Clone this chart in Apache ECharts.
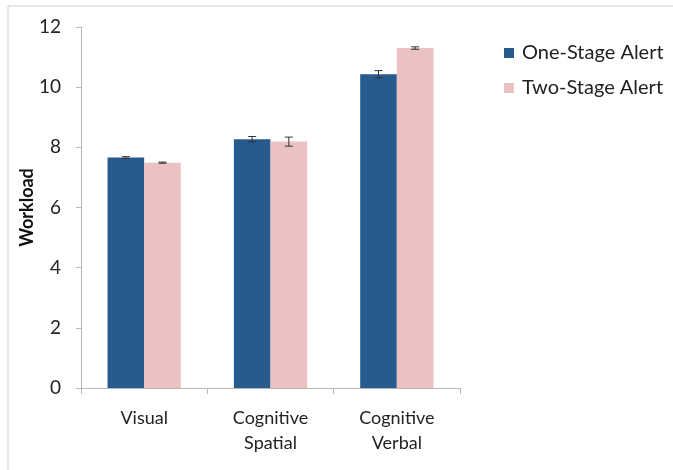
<!DOCTYPE html>
<html><head><meta charset="utf-8">
<script src="https://cdn.jsdelivr.net/npm/echarts@6/dist/echarts.min.js"></script>
<style>html,body{margin:0;padding:0;background:#fff}#c{width:673px;height:470px}</style>
</head><body><div id="c"></div>
<script>
const categories = ['Visual', 'Cognitive\nSpatial', 'Cognitive\nVerbal'];
const seriesNames = ['One-Stage Alert', 'Two-Stage Alert'];
const oneStage = [7.66, 8.27, 10.43];
const twoStage = [7.49, 8.19, 11.30];
const oneStageErr = [0.03, 0.09, 0.12];
const twoStageErr = [0.02, 0.15, 0.04];
const yTicks = [0, 2, 4, 6, 8, 10, 12];

const FONT = 'Lato';
const CAT_GAP = 0.42;

function errSeries(vals, errs, side) {
  return {
    type: 'custom',
    silent: true,
    z: 5,
    data: vals.map((v, i) => [i, v, errs[i]]),
    renderItem: function (params, api) {
      const i = api.value(0), v = api.value(1), e = api.value(2);
      const catW = api.size([1, 0])[0];
      const barW = catW * (1 - CAT_GAP) / 2;
      const c = api.coord([i, v]);
      const x = c[0] + side * barW / 2;
      const yHi = api.coord([i, v + e])[1];
      const yLo = api.coord([i, v - e])[1];
      const hw = 4;
      const st = { stroke: '#333', lineWidth: 1 };
      return { type: 'group', children: [
        { type: 'line', shape: { x1: x, y1: yHi, x2: x, y2: yLo }, style: st },
        { type: 'line', shape: { x1: x - hw, y1: yHi, x2: x + hw, y2: yHi }, style: st },
        { type: 'line', shape: { x1: x - hw, y1: yLo, x2: x + hw, y2: yLo }, style: st }
      ]};
    }
  };
}

const chart = echarts.init(document.getElementById('c'));
chart.setOption({
  animation: false,
  textStyle: { fontFamily: FONT },
  graphic: [{ type: 'rect', shape: { x: 8, y: 6, width: 700, height: 500 },
    style: { fill: 'none', stroke: '#cfcfcf', lineWidth: 1 }, silent: true }],
  grid: { left: 81, right: 213, top: 27, bottom: 82 },
  legend: {
    orient: 'vertical', left: 504, top: 43, padding: 0, itemWidth: 10, itemHeight: 10, itemGap: 15,
    icon: 'rect',
    textStyle: { fontFamily: FONT, fontSize: 20, color: '#222', padding: [0, 0, 0, 3] },
    data: seriesNames
  },
  xAxis: {
    type: 'category', data: categories,
    axisLine: { lineStyle: { color: '#b8b8b8' } },
    axisTick: { show: true, length: 6, lineStyle: { color: '#b8b8b8' } },
    axisLabel: { fontFamily: FONT, fontSize: 18, color: '#222', lineHeight: 25, margin: 18 }
  },
  yAxis: {
    type: 'value', min: yTicks[0], max: yTicks[yTicks.length - 1], interval: 2,
    name: 'Workload', nameLocation: 'middle', nameGap: 45, nameRotate: 90, nameMoveOverlap: false,
    nameTextStyle: { fontFamily: FONT, fontSize: 18, fontWeight: 'bold', color: '#111' },
    axisLine: { show: true, lineStyle: { color: '#b8b8b8' } },
    axisTick: { show: true, length: 5, lineStyle: { color: '#b8b8b8' } },
    splitLine: { show: false },
    axisLabel: { fontFamily: FONT, fontSize: 19, color: '#222', margin: 20 }
  },
  series: [
    { name: seriesNames[0], type: 'bar', data: oneStage, barGap: '0%', barCategoryGap: (CAT_GAP * 100) + '%',
      itemStyle: { color: '#275A8E' } },
    { name: seriesNames[1], type: 'bar', data: twoStage, barGap: '0%', barCategoryGap: (CAT_GAP * 100) + '%',
      itemStyle: { color: '#EBC1C1' } },
    errSeries(oneStage, oneStageErr, -1),
    errSeries(twoStage, twoStageErr, 1)
  ]
});
</script></body></html>
